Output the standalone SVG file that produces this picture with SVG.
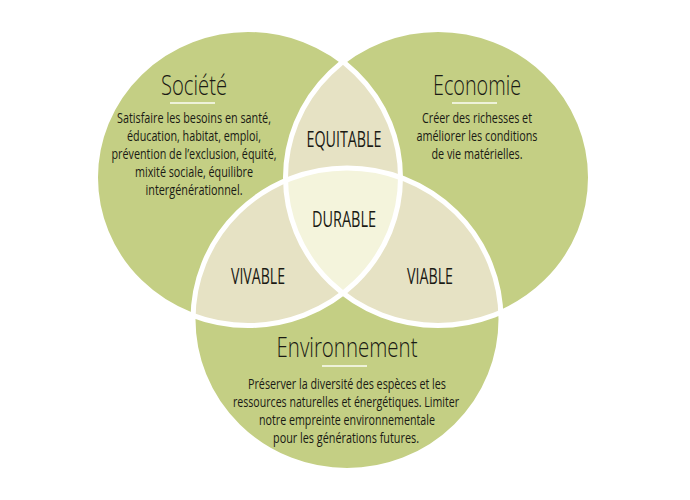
<svg xmlns="http://www.w3.org/2000/svg" width="690" height="500" viewBox="0 0 690 500">
<style>
.g{fill:#c4cf84}
.b{fill:#e6e2c4}
.t{fill:#f4f4dc}
.w{fill:none;stroke:#ffffff;stroke-width:5}
text{font-family:"Open Sans","Liberation Sans",sans-serif;fill:#1a1a14;text-anchor:middle}
.title{font-size:27px;font-weight:300}
.body{font-size:14.5px;font-weight:400}
.lab{font-size:22px;font-weight:400}
.ul{stroke:#eef2d9;stroke-width:2}
</style>
<defs>
<clipPath id="cS"><ellipse cx="248" cy="177.5" rx="152.5" ry="148"/></clipPath>
<clipPath id="cE"><ellipse cx="438" cy="177.5" rx="152.5" ry="148"/></clipPath>
</defs>
<rect width="690" height="500" fill="#ffffff"/>
<g id="circles">
<ellipse class="g" cx="248" cy="177.5" rx="152.5" ry="148"/>
<ellipse class="g" cx="438" cy="177.5" rx="152.5" ry="148"/>
<ellipse class="g" cx="347" cy="319.25" rx="154" ry="151.25"/>
<ellipse class="b" cx="438" cy="177.5" rx="152.5" ry="148" clip-path="url(#cS)"/>
<ellipse class="b" cx="347" cy="319.25" rx="154" ry="151.25" clip-path="url(#cS)"/>
<ellipse class="b" cx="347" cy="319.25" rx="154" ry="151.25" clip-path="url(#cE)"/>
<g clip-path="url(#cE)"><ellipse class="t" cx="347" cy="319.25" rx="154" ry="151.25" clip-path="url(#cS)"/></g>
<ellipse class="w" cx="248" cy="177.5" rx="152.5" ry="148"/>
<ellipse class="w" cx="438" cy="177.5" rx="152.5" ry="148"/>
<ellipse class="w" cx="347" cy="319.25" rx="154" ry="151.25"/>
</g>
<g id="connectors"/>
<g id="societe">
<text class="title" x="194" y="95" textLength="66" lengthAdjust="spacingAndGlyphs">Société</text>
<line class="ul" x1="170" y1="103" x2="215" y2="103"/>
<text class="body" x="194" y="123" textLength="154" lengthAdjust="spacingAndGlyphs">Satisfaire les besoins en santé,</text>
<text class="body" x="194" y="141" textLength="134" lengthAdjust="spacingAndGlyphs">éducation, habitat, emploi,</text>
<text class="body" x="194" y="159" textLength="165" lengthAdjust="spacingAndGlyphs">prévention de l’exclusion, équité,</text>
<text class="body" x="194" y="177" textLength="118" lengthAdjust="spacingAndGlyphs">mixité sociale, équilibre</text>
<text class="body" x="194" y="195" textLength="97" lengthAdjust="spacingAndGlyphs">intergénérationnel.</text>
</g>
<g id="economie">
<text class="title" x="477" y="95" textLength="88" lengthAdjust="spacingAndGlyphs">Economie</text>
<line class="ul" x1="452" y1="103" x2="497" y2="103"/>
<text class="body" x="477" y="123" textLength="110" lengthAdjust="spacingAndGlyphs">Créer des richesses et</text>
<text class="body" x="477" y="141" textLength="121" lengthAdjust="spacingAndGlyphs">améliorer les conditions</text>
<text class="body" x="477" y="159" textLength="91" lengthAdjust="spacingAndGlyphs">de vie matérielles.</text>
</g>
<g id="environnement">
<text class="title" x="347" y="357" textLength="141" lengthAdjust="spacingAndGlyphs">Environnement</text>
<line class="ul" x1="322" y1="366" x2="367" y2="366"/>
<text class="body" x="347" y="389" textLength="198" lengthAdjust="spacingAndGlyphs">Préserver la diversité des espèces et les</text>
<text class="body" x="346" y="407" textLength="226" lengthAdjust="spacingAndGlyphs">ressources naturelles et énergétiques. Limiter</text>
<text class="body" x="347" y="425" textLength="176" lengthAdjust="spacingAndGlyphs">notre empreinte environnementale</text>
<text class="body" x="346" y="443" textLength="146" lengthAdjust="spacingAndGlyphs">pour les générations futures.</text>
</g>
<g id="equitable"><text class="lab" x="344" y="147" textLength="75" lengthAdjust="spacingAndGlyphs">EQUITABLE</text></g>
<g id="durable"><text class="lab" x="344" y="227" textLength="64" lengthAdjust="spacingAndGlyphs">DURABLE</text></g>
<g id="vivable"><text class="lab" x="258" y="284" textLength="54" lengthAdjust="spacingAndGlyphs">VIVABLE</text></g>
<g id="viable"><text class="lab" x="430" y="284" textLength="46" lengthAdjust="spacingAndGlyphs">VIABLE</text></g>
</svg>
